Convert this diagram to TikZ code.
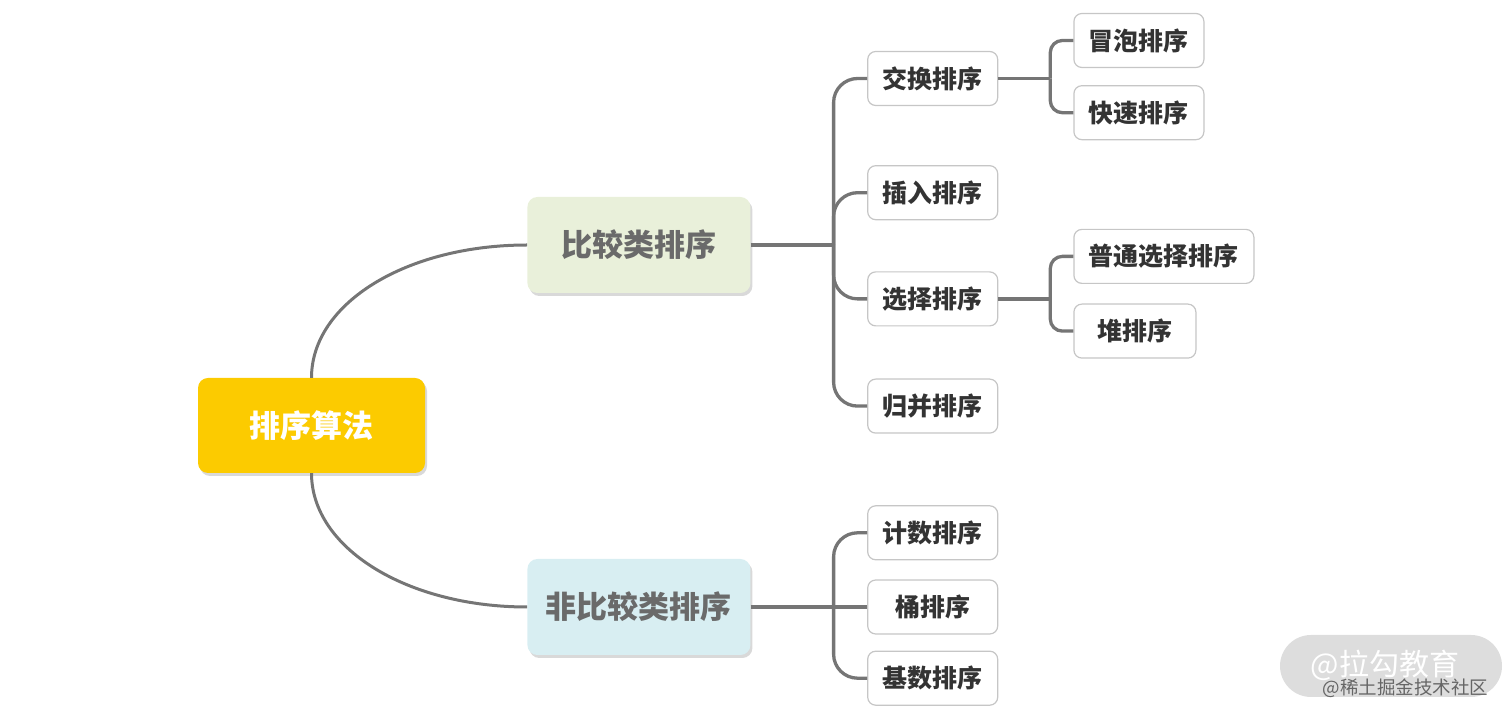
\documentclass[tikz,border=0pt]{standalone}
\usepackage{fontspec}
\newfontfamily\cjk{Noto Sans CJK SC}
\usepackage{tikz}
\usetikzlibrary{positioning, shadows}
\definecolor{gold}{HTML}{FCCB00}
\definecolor{cmpgreen}{HTML}{E9F0DA}
\definecolor{noncmpblue}{HTML}{D8EEF2}
\definecolor{midgray}{HTML}{6A6A6A}
\definecolor{leaftext}{HTML}{333333}
\definecolor{edgegray}{HTML}{C6C6C6}
\definecolor{linegray}{HTML}{757575}
\definecolor{wmgray}{HTML}{DDDDDD}
\tikzstyle{box0} = [rectangle, rounded corners=10pt, fill=gold, text=white, minimum width=227pt, minimum height=95pt, font=\cjk\bfseries\fontsize{31}{36}\selectfont, drop shadow={shadow xshift=2pt, shadow yshift=-3pt, opacity=0.3}]
\tikzstyle{box1} = [box0, minimum width=223pt, minimum height=96pt, text=midgray]
\tikzstyle{box2} = [rectangle, rounded corners=8pt, draw=edgegray, line width=1.2pt, fill=white, text=leaftext, inner xsep=15pt, minimum width=130pt, minimum height=54pt, font=\cjk\bfseries\fontsize{25}{30}\selectfont]
\tikzstyle{box3} = [box2, minimum width=122pt]
\tikzstyle{conn} = [line width=3.3pt, draw=linegray]
\tikzstyle{curve} = [conn, line width=3pt]

\begin{document}
\begin{tikzpicture}[auto, align=center, node distance=0pt]
\useasboundingbox (0,0) rectangle (1512pt,717pt);

\node(R)[box0] at (311.5pt,291.5pt) {排序算法};
\node(C1)[box1, fill=cmpgreen, right = 102pt of R, yshift=180.5pt] {比较类排序};
\node(C2)[box1, fill=noncmpblue, right = 102pt of R, yshift=-181.5pt] {非比较类排序};

\node(S1)[box2, right = 116.5pt of C1, yshift=166.5pt] {交换排序};
\node(S2)[box2, below = 59pt of S1] {插入排序};
\node(S3)[box2, below = 51pt of S2] {选择排序};
\node(S4)[box2, below = 52pt of S3] {归并排序};

\node(S6)[box2, right = 116.5pt of C2] {桶排序};
\node(S5)[box2, above = 19pt of S6] {计数排序};
\node(S7)[box2, below = 16pt of S6] {基数排序};

\node(T1)[box3, right = 75pt of S1, yshift=38pt] {冒泡排序};
\node(T2)[box3, below = 17pt of T1] {快速排序};
\node(T3)[box3, right = 75pt of S3, yshift=42.5pt] {普通选择排序};
\node(T4)[box3, below = 19.5pt of T3.south west, anchor=north west] {堆排序};

\draw[curve] (R.north) .. controls +(0,75pt) and +(-120pt,0) .. (C1.west);
\draw[curve] (R.south) .. controls +(0,-75pt) and +(-120pt,0) .. (C2.west);

\coordinate[right = 83pt of C1] (J1);
\draw[conn] (C1) -- (J1);
\foreach \n in {S1,S2,S3,S4}
  \draw[conn, rounded corners=24pt] (J1) |- (\n.west);

\coordinate[right = 83pt of C2] (J2);
\draw[conn] (C2) -- (S6);
\foreach \n in {S5,S7}
  \draw[conn, rounded corners=24pt] (J2) |- (\n.west);

\coordinate[right = 52pt of S1] (J3);
\draw[conn] (S1) -- (J3);
\foreach \n in {T1,T2}
  \draw[conn, rounded corners=12pt] (J3) |- (\n.west);

\coordinate[right = 52pt of S3] (J4);
\draw[conn] (S3) -- (J4);
\foreach \n in {T3,T4}
  \draw[conn, rounded corners=12pt] (J4) |- (\n.west);

\node(WM)[rectangle, rounded corners=31pt, fill=wmgray, minimum width=222pt, minimum height=62pt] at (1391pt,51pt) {};
\node(WT)[font=\cjk\fontsize{30}{30}\selectfont, text=white] at (1385pt,52pt) {@拉勾教育};
\node(WS)[font=\cjk\fontsize{18.5}{18.5}\selectfont, text=black!60, anchor=east] at (1492pt,29pt) {@稀土掘金技术社区};

\end{tikzpicture}
\end{document}
